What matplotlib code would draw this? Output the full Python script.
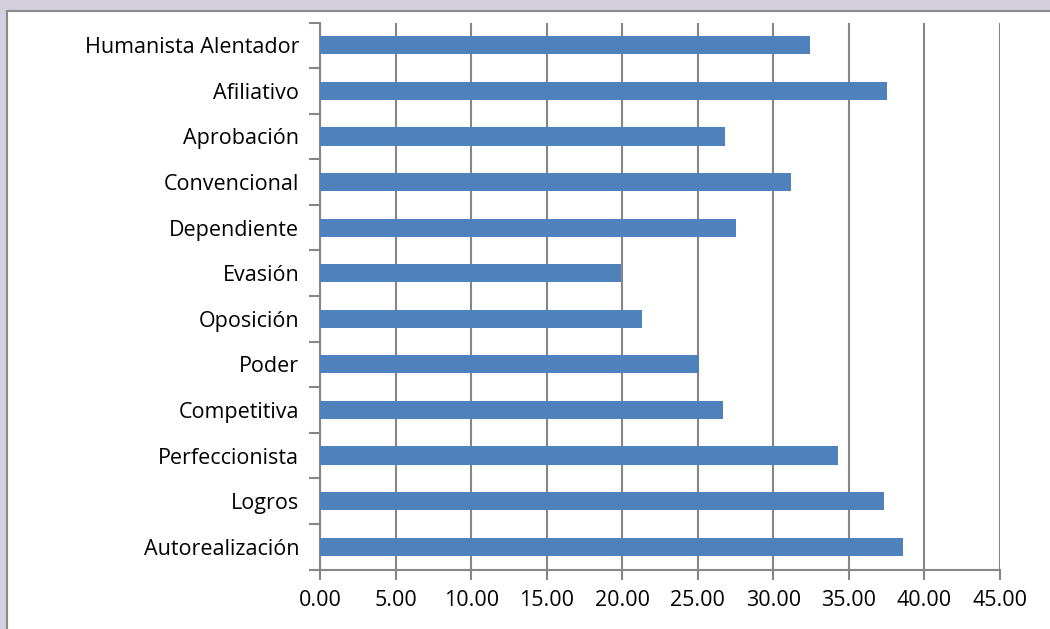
import matplotlib.pyplot as plt
from matplotlib.patches import Rectangle
from matplotlib.ticker import FixedLocator, FormatStrFormatter

# categories from top to bottom, as in the chart
estilos = ['Humanista Alentador', 'Afiliativo', 'Aprobación', 'Convencional',
           'Dependiente', 'Evasión', 'Oposición', 'Poder', 'Competitiva',
           'Perfeccionista', 'Logros', 'Autorealización']
puntajes = [32.4, 37.5, 26.8, 31.2, 27.5, 19.9, 21.3, 25.1, 26.7, 34.3, 37.3, 38.6]
x_ticks = [0, 5, 10, 15, 20, 25, 30, 35, 40, 45]

bar_color = '#4F81BD'
gray = '#868686'

plt.rcParams['font.family'] = ['Open Sans', 'DejaVu Sans']

fig = plt.figure(figsize=(10.5, 6.29), dpi=100, facecolor='#d3cfdd')

# white chart frame over the slide background
frame = Rectangle((7 / 1050, -0.05), 1.1, 1 - 10.5 / 629 + 0.05, transform=fig.transFigure,
                  facecolor='white', edgecolor='#8a8a8a', linewidth=1.5, zorder=-5)
fig.patches.append(frame)

ax = fig.add_axes([320 / 1050, 1 - 569.5 / 629, 680 / 1050, 547 / 629])
ax.set_facecolor('none')
ax.set_zorder(2)

pos = list(range(len(estilos)))
ax.barh(pos, puntajes, height=0.4, color=bar_color, zorder=3)

ax.set_xlim(0, 45)
ax.set_ylim(len(estilos) - 0.5, -0.5)

ax.xaxis.set_major_locator(FixedLocator(x_ticks))
ax.xaxis.set_major_formatter(FormatStrFormatter('%.2f'))
ax.grid(axis='x', color=gray, linewidth=1.5, zorder=1)

ax.set_yticks(pos)
ax.set_yticklabels(estilos)
ax.yaxis.set_minor_locator(FixedLocator([p - 0.5 for p in pos] + [len(pos) - 0.5]))
ax.tick_params(axis='y', which='major', length=0, pad=15, labelsize=15.5)
ax.tick_params(axis='y', which='minor', length=8, width=1.5, color=gray)
ax.tick_params(axis='x', length=7, width=1.5, color=gray, pad=8, labelsize=15.5)

for side in ['top', 'right']:
    ax.spines[side].set_visible(False)
for side in ['left', 'bottom']:
    ax.spines[side].set_color(gray)
    ax.spines[side].set_linewidth(1.5)

fig.savefig('out.png', dpi=100, facecolor=fig.get_facecolor())
